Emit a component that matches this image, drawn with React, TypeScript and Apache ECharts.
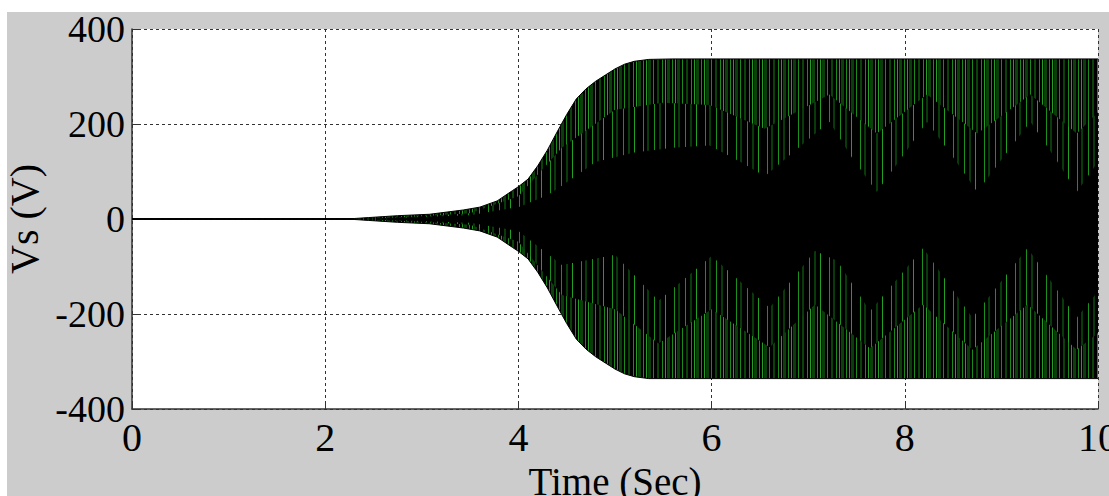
import React, { useEffect, useRef } from "react";
import * as echarts from "echarts";

// ---- Data (time in s, voltage in V) ----
const xTickValues = [0, 2, 4, 6, 8, 10];
const yTickValues = [-400, -200, 0, 200, 400];

// outer envelope of the oscillation (peak of Vs)
const envelopeTime = [0, 2.3, 2.45, 2.75, 3.08, 3.43, 3.6, 3.78, 3.94, 4.0, 4.1, 4.2, 4.3, 4.4, 4.5, 4.6, 4.7, 4.8, 4.9, 5.0, 5.1, 5.2, 5.35, 5.6, 10];
const envelopeUpper = [1, 1, 3, 7, 10, 19, 25, 38, 60, 68, 84, 112, 145, 183, 220, 253, 274, 290, 303, 316, 326, 332, 336, 337, 337];
const envelopeLower = [-1, -1, -3, -7, -10, -19, -25, -38, -60, -68, -84, -112, -145, -183, -220, -253, -274, -290, -303, -316, -326, -332, -336, -336, -336];

// inner edge of the dense green beat band
const upperBandTime = [0, 2.4, 3.0, 3.5, 4.0, 4.45, 5.0, 5.5, 5.98, 6.55, 7.22, 7.71, 8.23, 8.75, 9.3, 9.78, 10];
const upperBandVolts = [0, 0, 6, 12, 48, 150, 230, 245, 240, 190, 262, 180, 262, 180, 262, 180, 225];
const lowerBandTime = [0, 2.4, 3.0, 3.5, 4.0, 4.45, 5.0, 5.45, 6.0, 6.6, 7.07, 7.64, 8.19, 8.7, 9.27, 9.78, 10];
const lowerBandVolts = [0, 0, -6, -12, -48, -160, -190, -262, -190, -270, -180, -272, -180, -275, -180, -275, -240];

// deepest reach of the green spikes (beat pattern)
const upperTipTime = [0, 2.4, 3.0, 3.5, 4.0, 4.3, 4.45, 4.8, 5.2, 5.6, 5.98, 6.3, 6.55, 6.9, 7.22, 7.45, 7.71, 7.97, 8.23, 8.5, 8.75, 9.02, 9.3, 9.55, 9.78, 10];
const upperTipVolts = [0, 0, 4, 8, 25, 50, 70, 120, 140, 150, 155, 120, 90, 150, 205, 130, 57, 130, 205, 130, 57, 130, 205, 130, 57, 120];
const lowerTipTime = [0, 2.4, 3.0, 3.5, 4.0, 4.45, 5.0, 5.45, 6.0, 6.6, 7.07, 7.3, 7.64, 8.19, 8.7, 9.27, 9.78, 10];
const lowerTipVolts = [0, 0, -4, -8, -25, -97, -75, -172, -78, -187, -67, -88, -194, -61, -208, -61, -208, -152];

const zip = (t: number[], v: number[]) => t.map((x, i) => [x, v[i]]);

const FONT = "'Liberation Serif', 'Times New Roman', serif";

export default function App() {
  const ref = useRef<HTMLDivElement>(null);

  useEffect(() => {
    if (!ref.current) return;
    const chart = echarts.init(ref.current, null, { renderer: "svg" });

    const makePattern = (w: number, stripes: [number, number, string][]) => {
      const c = document.createElement("canvas");
      c.width = w;
      c.height = 8;
      const ctx = c.getContext("2d")!;
      ctx.fillStyle = "#000";
      ctx.fillRect(0, 0, w, 8);
      stripes.forEach(([x, width, color]) => {
        ctx.fillStyle = color;
        ctx.fillRect(x, 0, width, 8);
      });
      return { image: c, repeat: "repeat" as const, imageWidth: w, imageHeight: 8 };
    };

    const dense = makePattern(29, [
      [0, 3, "#0a420a"],
      [5, 1, "#1a8a1a"],
      [8, 1, "#22a022"],
      [10, 3, "#093d09"],
      [15, 1, "#1a8a1a"],
      [19, 2, "#0a420a"],
      [24, 1, "#1a8a1a"],
      [27, 1, "#22a022"],
    ]);
    const sparse = makePattern(31, [
      [3, 1, "#1c901c"],
      [8, 2, "#093a09"],
      [14, 1, "#22a022"],
      [23, 1, "#1c901c"],
      [27, 2, "#093a09"],
    ]);

    const areaSeries = (name: string, data: number[][], fill: any, line: any) => ({
      name,
      type: "line",
      data,
      showSymbol: false,
      symbol: "none",
      lineStyle: line,
      areaStyle: { color: fill, opacity: 1 },
      emphasis: { disabled: true },
      silent: true,
    });

    const hidden = { width: 0, opacity: 0 };
    const edge = { width: 1, color: "#000000" };

    chart.setOption({
      animation: false,
      backgroundColor: "#ffffff",
      graphic: [
        {
          type: "rect",
          z: -100,
          silent: true,
          shape: { x: 7, y: 12, width: 1102, height: 484 },
          style: { fill: "#cccccc" },
        },
      ],
      grid: {
        left: 132,
        right: 11,
        top: 29,
        bottom: 87,
        show: true,
        backgroundColor: "#ffffff",
        borderWidth: 0,
        containLabel: false,
        outerBoundsMode: "none",
      },
      xAxis: {
        type: "value",
        min: xTickValues[0],
        max: xTickValues[xTickValues.length - 1],
        interval: xTickValues[1] - xTickValues[0],
        name: "Time (Sec)",
        nameLocation: "middle",
        nameGap: 43,
        nameTextStyle: { fontFamily: FONT, fontSize: 39, color: "#000" },
        axisLine: { show: true, onZero: false, lineStyle: { color: "#333", width: 1.5 } },
        axisTick: { show: true, inside: true, length: 8, lineStyle: { color: "#333", width: 1 } },
        axisLabel: { fontFamily: FONT, fontSize: 40, color: "#000", margin: 8 },
        splitLine: { show: true, lineStyle: { color: "#333", type: [3, 3], width: 1 } },
      },
      yAxis: {
        type: "value",
        min: yTickValues[0],
        max: yTickValues[yTickValues.length - 1],
        interval: yTickValues[1] - yTickValues[0],
        name: "Vs (V)",
        nameLocation: "middle",
        nameGap: 84,
        nameRotate: 90,
        nameTextStyle: { fontFamily: FONT, fontSize: 40, color: "#000" },
        axisLine: { show: true, onZero: false, lineStyle: { color: "#333", width: 1.5 } },
        axisTick: { show: true, inside: true, length: 8, lineStyle: { color: "#333", width: 1 } },
        axisLabel: { fontFamily: FONT, fontSize: 38, color: "#000", margin: 7 },
        splitLine: { show: true, lineStyle: { color: "#333", type: [3, 3], width: 1 } },
      },
      series: [
        areaSeries("Vs upper", zip(envelopeTime, envelopeUpper), dense, edge),
        areaSeries("Vs lower", zip(envelopeTime, envelopeLower), dense, edge),
        areaSeries("upper band", zip(upperBandTime, upperBandVolts), sparse, hidden),
        areaSeries("lower band", zip(lowerBandTime, lowerBandVolts), sparse, hidden),
        areaSeries("upper tips", zip(upperTipTime, upperTipVolts), "#000000", hidden),
        areaSeries("lower tips", zip(lowerTipTime, lowerTipVolts), "#000000", hidden),
      ],
    });

    return () => chart.dispose();
  }, []);

  return (
    <div style={{ position: "fixed", left: 0, top: 0, width: 1109, height: 496, background: "#ffffff", overflow: "hidden" }}>
      <div ref={ref} style={{ width: 1109, height: 496 }} />
    </div>
  );
}
